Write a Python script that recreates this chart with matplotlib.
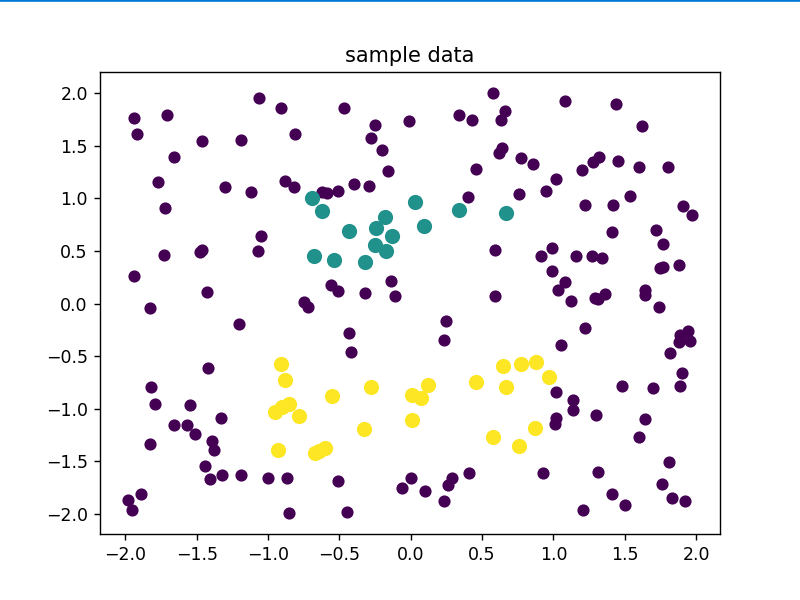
import matplotlib
matplotlib.use('Agg')
import numpy as np
import matplotlib.pyplot as plt
from matplotlib.lines import Line2D

# class 0 (purple)
x0 = [-1.06, -1.94, -1.71, -1.92, -1.46, -1.19, -1.66, -1.77, -1.30, -1.12,
      -1.72, -1.05, -1.73, -1.48, -1.46, -1.07, -1.94, -1.43, -1.83,
      -0.91, -0.47, -0.01, -0.25, -0.81, -0.28, -0.20, -0.16, -0.88, -0.82,
      -0.40, -0.29, -0.62, -0.59, -0.51, -0.56, -0.51, -0.32, -0.14, -0.11,
      -0.75, -0.72,
      0.58, 1.08, 0.34, 0.43, 0.66, 0.63, 0.64, 0.62, 0.77, 0.86, 0.46, 1.02,
      0.95, 0.76, 0.40, 0.59, 0.99, 0.91, 0.99, 1.08, 1.03, 1.12, 0.59,
      1.44, 1.62, 1.32, 1.28, 1.20, 1.45, 1.60, 1.80, 1.54, 1.22, 1.42, 1.91,
      1.97, 1.41, 1.72, 1.77, 1.16, 1.27, 1.34, 1.75, 1.77, 1.88, 1.29, 1.31,
      1.36, 1.64, 1.64, 1.74,
      -1.20, -1.42, -1.82, -1.79, -1.55, -1.33, -1.66, -1.57, -1.51, -1.39,
      -1.38, -1.83, -1.44, -1.41, -1.32, -1.19, -1.89, -1.98, -1.95,
      -0.43, -0.42, -1.00, -0.87, -0.51, -0.85, -0.45, 0.00, -0.06,
      0.25, 0.23, 1.05, 1.02, 1.14, 1.14, 1.02, 1.01, 0.10, 0.29, 0.26, 0.41,
      0.23, 0.93,
      1.22, 1.94, 1.89, 1.88, 1.96, 1.82, 1.90, 1.89, 1.48, 1.70, 1.30, 1.64,
      1.60, 1.81, 1.31, 1.76, 1.41, 1.50, 1.83, 1.92, 1.21]
y0 = [1.95, 1.76, 1.79, 1.61, 1.54, 1.55, 1.39, 1.15, 1.11, 1.06,
      0.91, 0.64, 0.46, 0.49, 0.51, 0.50, 0.26, 0.11, -0.04,
      1.86, 1.86, 1.73, 1.70, 1.61, 1.57, 1.46, 1.26, 1.16, 1.11,
      1.14, 1.12, 1.06, 1.05, 1.07, 0.18, 0.12, 0.10, 0.21, 0.07,
      0.01, -0.03,
      2.00, 1.92, 1.79, 1.74, 1.83, 1.74, 1.48, 1.43, 1.38, 1.33, 1.28, 1.18,
      1.07, 1.04, 1.01, 0.51, 0.53, 0.45, 0.31, 0.20, 0.13, 0.02, 0.07,
      1.90, 1.69, 1.39, 1.34, 1.27, 1.35, 1.30, 1.30, 1.02, 0.94, 0.94, 0.93,
      0.84, 0.68, 0.70, 0.57, 0.45, 0.45, 0.43, 0.34, 0.35, 0.37, 0.05, 0.04,
      0.09, 0.13, 0.08, -0.03,
      -0.19, -0.61, -0.79, -0.95, -0.96, -1.09, -1.15, -1.15, -1.24, -1.31,
      -1.39, -1.33, -1.54, -1.67, -1.63, -1.63, -1.81, -1.87, -1.96,
      -0.28, -0.46, -1.66, -1.66, -1.69, -1.99, -1.98, -1.66, -1.75,
      -0.17, -0.35, -0.39, -0.84, -0.92, -1.01, -1.09, -1.14, -1.78, -1.66,
      -1.72, -1.61, -1.88, -1.61,
      -0.23, -0.26, -0.30, -0.37, -0.36, -0.47, -0.66, -0.78, -0.78, -0.80,
      -1.06, -1.10, -1.27, -1.51, -1.60, -1.71, -1.81, -1.91, -1.85, -1.88,
      -1.96]

# class 1 (teal)
x1 = [-0.69, -0.62, -0.43, -0.18, -0.24, -0.13, -0.25, -0.17, -0.68, -0.54,
      -0.32, 0.03, 0.34, 0.09, 0.67]
y1 = [1.00, 0.88, 0.69, 0.82, 0.72, 0.64, 0.56, 0.50, 0.45, 0.41,
      0.39, 0.96, 0.89, 0.74, 0.86]

# class 2 (yellow)
x2 = [-0.91, -0.88, -0.55, -0.28, -0.95, -0.90, -0.85, -0.78, -0.33, -0.93,
      -0.67, -0.64, -0.60, 0.01, 0.07, 0.01, 0.12, 0.46, 0.65, 0.77, 0.88,
      0.97, 0.67, 0.87, 0.58, 0.76]
y2 = [-0.57, -0.73, -0.88, -0.79, -1.03, -0.98, -0.95, -1.07, -1.19, -1.39,
      -1.42, -1.40, -1.37, -0.87, -0.90, -1.11, -0.77, -0.75, -0.59, -0.57,
      -0.56, -0.70, -0.79, -1.18, -1.27, -1.35]

fig = plt.figure(figsize=(6.4, 4.8), dpi=125)
cmap = plt.cm.viridis
plt.scatter(x0, y0, color=cmap(0.0), s=36)
plt.scatter(x1, y1, color=cmap(0.5), s=60)
plt.scatter(x2, y2, color=cmap(1.0), s=60)
plt.title('sample data')

fig.add_artist(Line2D([0, 1], [1, 1], transform=fig.transFigure,
                      color='#0078d7', lw=1.5))

plt.savefig('out.png', dpi=125)
